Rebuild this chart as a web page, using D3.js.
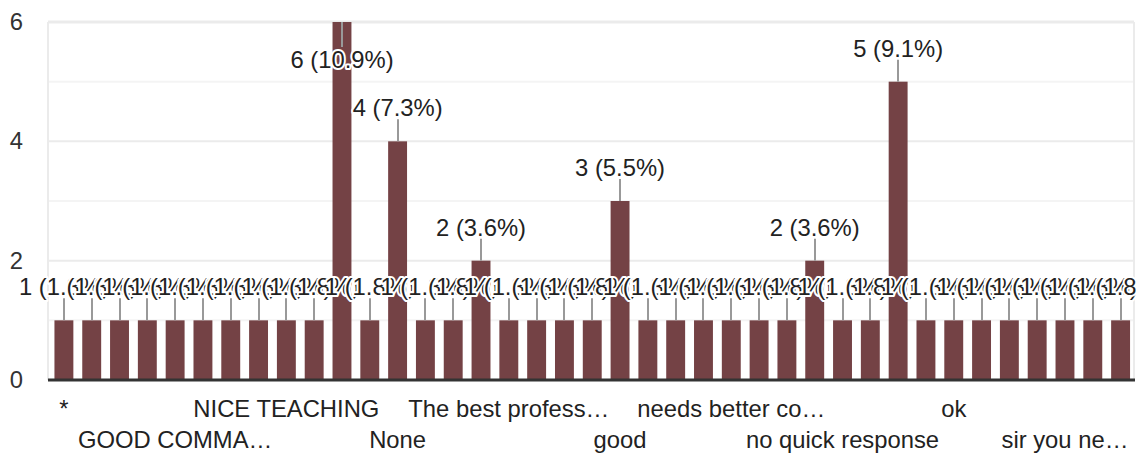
<!DOCTYPE html>
<html>
<head>
<meta charset="utf-8">
<script src="https://cdn.jsdelivr.net/npm/d3@7"></script>
<style>
  html, body { margin: 0; padding: 0; background: #fff; }
  svg { display: block; font-family: Arial, "Liberation Sans", sans-serif; }
</style>
</head>
<body>
<svg id="chart" width="1136" height="455"></svg>
<script>
const categories = [
  "*", "-", ".", "GOOD", "GOOD COMMA…", "Good", "Keep it up", "NA",
  "NICE TEACHING", "NO", "No", "No comments", "None", "Nothing", "Ok", "Satisfied",
  "The best profess…", "Very good", "excellent", "fine", "good", "good teaching", "helpful", "knowledgeable",
  "needs better co…", "nice", "nil", "no", "no quick response", "none", "nothing", "nothing to say",
  "ok", "okay", "satisfied", "should improve", "sir you ne…", "very good", "yes"
];
const counts = [
  1, 1, 1, 1, 1, 1, 1, 1,
  1, 1, 6, 1, 4, 1, 1, 2,
  1, 1, 1, 1, 3, 1, 1, 1,
  1, 1, 1, 2, 1, 1, 5, 1,
  1, 1, 1, 1, 1, 1, 1
];
const yTicks = [0, 2, 4, 6];
const yGrid = [0, 1, 2, 3, 4, 5, 6];
const total = 55;

const FS = 23.8;
const FF = 'Arial, "Liberation Sans", sans-serif';
const svg = d3.select("#chart");
const pLeft = 48, pRight = 1134, pTop = 22, pBottom = 380;

const x = d3.scaleBand()
  .domain(d3.range(categories.length))
  .range([50, 1134.5])
  .paddingInner(0.32)
  .paddingOuter(0.16);
const y = d3.scaleLinear().domain([0, 6]).range([pBottom, pTop]);

// gridlines
svg.append("g").selectAll("line").data(yGrid.filter(d => d > 0)).join("line")
  .attr("x1", pLeft).attr("x2", pRight)
  .attr("y1", d => y(d)).attr("y2", d => y(d))
  .attr("stroke", d => d % 2 === 0 ? "#ebebeb" : "#f4f4f4")
  .attr("stroke-width", d => d === 6 ? 3 : 2);
svg.append("line").attr("x1", pLeft).attr("x2", pLeft).attr("y1", pTop).attr("y2", pBottom)
  .attr("stroke", "#ebebeb").attr("stroke-width", 2);
svg.append("line").attr("x1", pRight).attr("x2", pRight).attr("y1", pTop).attr("y2", pBottom)
  .attr("stroke", "#ebebeb").attr("stroke-width", 2);

// y axis
const yAxis = svg.append("g")
  .attr("transform", `translate(${pLeft},0)`)
  .call(d3.axisLeft(y).tickValues(yTicks).tickFormat(d3.format("d")).tickSize(0).tickPadding(25));
yAxis.select(".domain").remove();
yAxis.selectAll("text")
  .attr("font-size", FS).attr("fill", "#333")
  .attr("font-family", FF);

// bars
svg.append("g").selectAll("rect").data(counts).join("rect")
  .attr("x", (d, i) => x(i))
  .attr("width", x.bandwidth())
  .attr("y", d => y(d))
  .attr("height", d => pBottom - y(d))
  .attr("fill", "#744245");

// baseline
svg.append("line").attr("x1", pLeft).attr("x2", pRight + 1).attr("y1", pBottom).attr("y2", pBottom)
  .attr("stroke", "#333").attr("stroke-width", 3);

// x axis labels (every 4th, alternating two rows)
const xAxis = svg.append("g")
  .attr("transform", `translate(0,${pBottom})`)
  .call(d3.axisBottom(x).tickValues(d3.range(0, categories.length, 4))
    .tickFormat(i => categories[i]).tickSize(0).tickPadding(0));
xAxis.select(".domain").remove();
xAxis.selectAll("text")
  .attr("font-size", FS).attr("fill", "#222")
  .attr("font-family", FF)
  .attr("dy", null)
  .attr("y", i => (i % 8 === 0 ? 37 : 68));

// annotations
const fmt = d => `${d} (${(d / total * 100).toFixed(1)}%)`;
const ann = svg.append("g");
counts.forEach((d, i) => {
  const cx = Math.round(x(i) + x.bandwidth() / 2);
  const yt = y(d);
  const flip = yt - 50 < 0;
  const l1 = flip ? yt : yt - 22;
  const l2 = flip ? yt + 25 : yt;
  ann.append("line")
    .attr("x1", cx).attr("x2", cx).attr("y1", l1).attr("y2", l2)
    .attr("stroke", "#999").attr("stroke-width", 2);
});
counts.forEach((d, i) => {
  const cx = x(i) + x.bandwidth() / 2;
  const yt = y(d);
  const flip = yt - 50 < 0;
  ann.append("text")
    .attr("x", cx)
    .attr("y", flip ? yt + 46 : yt - 25)
    .attr("text-anchor", "middle")
    .attr("font-size", FS)
    .attr("font-family", FF)
    .attr("fill", "#222")
    .attr("stroke", "#fff")
    .attr("stroke-width", 4)
    .attr("stroke-linejoin", "round")
    .attr("paint-order", "stroke")
    .text(fmt(d));
});
</script>
</body>
</html>
